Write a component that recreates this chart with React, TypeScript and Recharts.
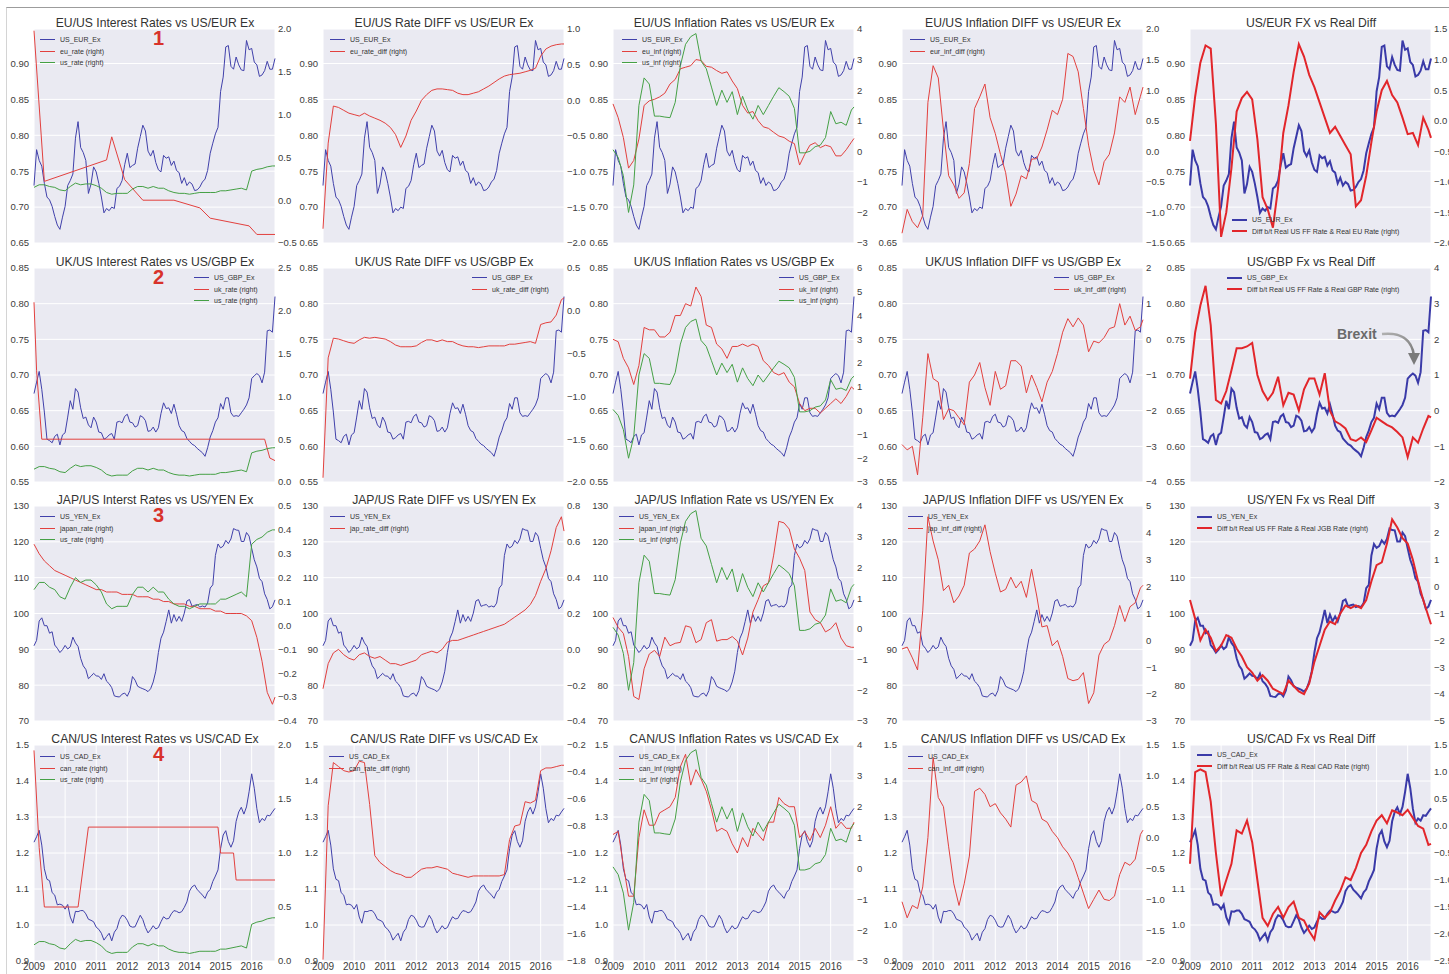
import React from 'react';
import { LineChart, Line, XAxis, YAxis, CartesianGrid } from 'recharts';

const FONT = '"Liberation Sans", Arial, Helvetica, sans-serif';

// months counted from Jan 2009 (0) to Oct 2016 (93)
const LAST_MONTH = 93;
const YEARS = [2009, 2010, 2011, 2012, 2013, 2014, 2015, 2016];
const YEAR_TICKS = YEARS.map((y) => (y - 2009) * 12);
// most series are read every second month, plus the last month
const BI_MONTHS = Array.from({ length: 47 }, (_, i) => i * 2).concat([93]);

const BLUE = '#4040aa';
const RED = '#e2403e';
const GREEN = '#45a045';
const BLUE_THICK = '#3a3aa8';
const RED_THICK = '#e2262b';
const BG = '#eaeaf2';

// ---- exchange rates, monthly ----
const US_EUR_EX = [
  0.730, 0.780, 0.765, 0.757, 0.733, 0.714, 0.710, 0.701, 0.687, 0.675, 0.669, 0.686,
  0.701, 0.730, 0.737, 0.746, 0.796, 0.819, 0.783, 0.776, 0.765, 0.719, 0.732, 0.756,
  0.749, 0.733, 0.714, 0.692, 0.698, 0.695, 0.700, 0.698, 0.726, 0.729, 0.737, 0.759,
  0.775, 0.755, 0.758, 0.760, 0.782, 0.798, 0.814, 0.806, 0.778, 0.771, 0.779, 0.762,
  0.752, 0.749, 0.772, 0.768, 0.770, 0.758, 0.764, 0.751, 0.748, 0.733, 0.741, 0.730,
  0.735, 0.732, 0.723, 0.724, 0.728, 0.735, 0.739, 0.751, 0.775, 0.789, 0.802, 0.811,
  0.861, 0.881, 0.923, 0.925, 0.896, 0.892, 0.909, 0.898, 0.891, 0.890, 0.932, 0.919,
  0.921, 0.902, 0.898, 0.882, 0.884, 0.890, 0.903, 0.892, 0.892, 0.907,
];
const US_GBP_EX = [
  0.674, 0.690, 0.705, 0.680, 0.648, 0.610, 0.608, 0.605, 0.614, 0.617, 0.602, 0.616,
  0.619, 0.641, 0.664, 0.652, 0.681, 0.676, 0.654, 0.639, 0.641, 0.630, 0.626, 0.641,
  0.634, 0.620, 0.619, 0.610, 0.612, 0.616, 0.618, 0.610, 0.634, 0.635, 0.633, 0.642,
  0.645, 0.634, 0.633, 0.627, 0.629, 0.643, 0.641, 0.636, 0.621, 0.622, 0.627, 0.620,
  0.626, 0.646, 0.661, 0.653, 0.654, 0.646, 0.659, 0.645, 0.629, 0.622, 0.620, 0.611,
  0.607, 0.603, 0.601, 0.597, 0.594, 0.591, 0.586, 0.598, 0.613, 0.622, 0.634, 0.640,
  0.660, 0.652, 0.668, 0.668, 0.647, 0.642, 0.643, 0.642, 0.647, 0.652, 0.658, 0.668,
  0.695, 0.699, 0.702, 0.699, 0.689, 0.704, 0.762, 0.763, 0.760, 0.810,
];
const US_YEN_EX = [
  91.0, 92.5, 97.9, 98.8, 96.6, 96.6, 94.5, 94.9, 91.2, 90.3, 89.1, 89.9,
  91.1, 90.1, 90.7, 93.4, 91.8, 90.8, 87.5, 85.4, 84.4, 81.8, 82.5, 83.3,
  82.6, 82.5, 81.6, 83.2, 81.1, 80.4, 79.3, 77.0, 76.8, 76.7, 77.5, 77.8,
  76.9, 78.5, 82.4, 81.4, 79.7, 79.3, 79.0, 78.7, 78.2, 79.0, 80.9, 83.9,
  89.1, 93.1, 94.8, 97.8, 101.0, 97.3, 99.7, 97.8, 99.2, 97.8, 100.1, 103.5,
  103.9, 102.0, 102.3, 102.5, 101.8, 102.1, 101.8, 102.9, 107.1, 108.0, 116.2, 119.4,
  118.3, 118.8, 120.4, 119.5, 120.8, 123.7, 123.3, 123.2, 120.1, 120.1, 122.6, 121.6,
  118.2, 115.0, 113.0, 109.8, 108.9, 105.5, 103.9, 101.3, 101.9, 103.8,
];
const US_CAD_EX = [
  1.230, 1.245, 1.263, 1.222, 1.156, 1.127, 1.123, 1.090, 1.083, 1.056, 1.058, 1.055,
  1.044, 1.057, 1.022, 1.005, 1.038, 1.037, 1.040, 1.040, 1.031, 1.016, 1.013, 1.009,
  0.994, 0.988, 0.977, 0.958, 0.968, 0.977, 0.956, 0.980, 0.990, 1.015, 1.027, 1.024,
  1.013, 0.997, 0.994, 0.995, 1.011, 1.027, 1.015, 0.993, 0.978, 0.987, 0.998, 0.989,
  0.993, 1.009, 1.023, 1.017, 1.018, 1.031, 1.040, 1.038, 1.034, 1.037, 1.049, 1.064,
  1.094, 1.106, 1.111, 1.098, 1.091, 1.083, 1.074, 1.091, 1.099, 1.121, 1.136, 1.153,
  1.212, 1.250, 1.262, 1.232, 1.216, 1.234, 1.288, 1.314, 1.327, 1.308, 1.328, 1.370,
  1.420, 1.380, 1.323, 1.284, 1.296, 1.290, 1.305, 1.303, 1.314, 1.324,
];

// ---- policy rates: [month, value] break points ----
const EU_RATE: [number, number][] = [
  [0, 1.98], [4, 0.22], [28, 0.47], [30, 0.74], [35, 0.24], [42, 0.0], [54, 0.0],
  [64, -0.09], [68, -0.21], [83, -0.3], [86, -0.4], [93, -0.4],
];
const UK_RATE: [number, number][] = [
  [0, 2.1], [1, 1.3], [3, 0.5], [89, 0.5], [91, 0.28], [93, 0.25],
];
const CAN_RATE: [number, number][] = [
  [0, 1.95], [2, 1.05], [4, 0.5], [17, 0.5], [21, 1.24], [71, 1.24], [72, 1.0],
  [77, 1.0], [78, 0.75], [93, 0.75],
];

// ---- every second month (BI_MONTHS) ----
const US_RATE = [
  0.15, 0.18, 0.18, 0.16, 0.15, 0.12, 0.11, 0.16,
  0.20, 0.18, 0.19, 0.19, 0.17, 0.14, 0.09, 0.07,
  0.08, 0.08, 0.08, 0.13, 0.16, 0.16, 0.14, 0.16,
  0.14, 0.14, 0.11, 0.09, 0.08, 0.08, 0.07, 0.08,
  0.09, 0.09, 0.09, 0.09, 0.11, 0.11, 0.12, 0.13,
  0.14, 0.12, 0.34, 0.36, 0.37, 0.39, 0.40, 0.40,
];
const JAPAN_RATE = [
  0.34, 0.30, 0.27, 0.25, 0.23, 0.22, 0.21, 0.20,
  0.19, 0.18, 0.17, 0.16, 0.15, 0.15, 0.14, 0.14,
  0.14, 0.13, 0.13, 0.13, 0.12, 0.12, 0.12, 0.11,
  0.11, 0.10, 0.10, 0.09, 0.09, 0.09, 0.08, 0.08,
  0.07, 0.07, 0.07, 0.06, 0.06, 0.05, 0.05, 0.05,
  0.05, 0.04, 0.02, -0.05, -0.15, -0.28, -0.33, -0.30,
];
const EU_RATE_DIFF = [
  -1.80, -0.60, -0.08, -0.10, -0.14, -0.18, -0.20, -0.22,
  -0.18, -0.22, -0.25, -0.28, -0.32, -0.38, -0.48, -0.66,
  -0.50, -0.28, -0.15, 0.00, 0.08, 0.14, 0.16, 0.16,
  0.15, 0.14, 0.10, 0.08, 0.08, 0.10, 0.12, 0.16,
  0.20, 0.25, 0.30, 0.34, 0.36, 0.37, 0.38, 0.40,
  0.42, 0.45, 0.62, 0.72, 0.76, 0.78, 0.79, 0.79,
];
const UK_RATE_DIFF = [
  -1.95, -0.55, -0.32, -0.33, -0.35, -0.37, -0.38, -0.34,
  -0.31, -0.32, -0.31, -0.32, -0.33, -0.36, -0.40, -0.42,
  -0.42, -0.42, -0.41, -0.37, -0.34, -0.34, -0.36, -0.34,
  -0.36, -0.36, -0.39, -0.41, -0.42, -0.42, -0.43, -0.42,
  -0.41, -0.41, -0.41, -0.41, -0.39, -0.39, -0.38, -0.37,
  -0.36, -0.38, -0.16, -0.14, -0.13, -0.05, 0.13, 0.15,
];
const JAP_RATE_DIFF = [
  -0.22, -0.08, -0.02, 0.00, -0.03, -0.05, -0.06, -0.03,
  -0.02, -0.04, -0.05, -0.04, -0.06, -0.08, -0.08, -0.09,
  -0.08, -0.07, -0.06, -0.03, -0.02, -0.01, -0.02, 0.00,
  0.04, 0.05, 0.05, 0.06, 0.07, 0.08, 0.09, 0.10,
  0.11, 0.12, 0.13, 0.14, 0.16, 0.18, 0.20, 0.22,
  0.25, 0.30, 0.38, 0.45, 0.55, 0.68, 0.74, 0.66,
];
const CAN_RATE_DIFF = [
  -1.79, -0.65, -0.33, -0.36, -0.39, -0.40, -0.39, -0.32,
  -0.33, -0.64, -1.02, -1.07, -1.10, -1.13, -1.15, -1.16,
  -1.18, -1.18, -1.15, -1.12, -1.11, -1.11, -1.10, -1.11,
  -1.12, -1.15, -1.16, -1.17, -1.18, -1.17, -1.17, -1.17,
  -1.17, -1.17, -1.17, -1.16, -0.90, -0.80, -0.79, -0.62,
  -0.63, -0.61, -0.39, -0.37, -0.37, -0.36, -0.35, -0.35,
];

// ---- inflation ----
const US_INF = [
  0.05, -0.20, -0.80, -2.00, -1.10, 1.50, 2.40, 2.20,
  1.15, 1.15, 1.12, 1.10, 1.60, 2.80, 3.50, 3.75,
  3.85, 2.95, 2.70, 2.10, 1.50, 2.00, 1.60, 1.95,
  1.20, 1.80, 1.35, 1.05, 1.50, 1.20, 1.50, 1.80,
  2.08, 1.95, 1.80, 1.40, -0.05, -0.05, 0.00, 0.15,
  0.20, 0.45, 1.30, 0.90, 0.95, 0.85, 1.35, 1.45,
];
const EU_INF = [
  1.55, 1.10, 0.45, -0.55, -0.30, 0.40, 1.50, 1.65,
  1.70, 1.78, 1.90, 2.20, 2.35, 2.70, 2.75, 2.80,
  3.00, 2.97, 2.78, 2.75, 2.64, 2.55, 2.60, 2.30,
  2.05, 1.50, 1.25, 1.30, 1.00, 0.80, 0.75, 0.62,
  0.50, 0.45, 0.33, 0.25, -0.45, -0.10, 0.20, 0.28,
  0.12, 0.20, 0.15, -0.15, -0.15, 0.05, 0.30, 0.42,
];
const UK_INF = [
  3.0, 2.9, 2.2, 1.8, 1.1, 1.9, 3.5, 3.4,
  3.4, 3.1, 3.1, 3.3, 4.0, 4.0, 4.5, 4.4,
  5.2, 4.8, 3.6, 3.5, 2.8, 2.6, 2.2, 2.7,
  2.7, 2.8, 2.7, 2.8, 2.7, 2.1, 1.9, 1.6,
  1.5, 1.6, 1.2, 1.0, 0.3, 0.0, 0.1, 0.1,
  -0.1, 0.1, 0.3, 0.5, 0.3, 0.6, 1.0, 0.9,
];
const JAPAN_INF = [
  0.37, 0.05, -0.15, -0.90, -2.20, -2.30, -1.30, -0.82,
  -0.70, -0.90, -0.27, -0.55, -0.47, -0.44, 0.10, 0.05,
  -0.45, -0.35, 0.20, 0.30, -0.40, -0.35, -0.35, -0.25,
  -0.40, -0.85, -0.30, 0.55, 0.95, 1.40, 1.50, 2.40,
  3.50, 3.45, 3.25, 2.60, 2.30, 1.90, 0.55, 0.30,
  0.20, -0.10, 0.00, 0.20, -0.30, -0.55, -0.60, -0.60,
];
const CAN_INF = [
  1.1, 1.2, 0.1, -0.9, -0.9, 1.0, 1.9, 1.4,
  1.4, 1.8, 1.9, 2.0, 2.3, 3.3, 3.7, 2.7,
  3.2, 2.9, 2.5, 1.9, 1.2, 1.3, 1.2, 0.8,
  0.5, 1.0, 0.7, 1.3, 1.1, 0.9, 1.5, 1.5,
  2.3, 2.1, 2.0, 2.0, 1.0, 1.2, 0.9, 1.3,
  1.0, 1.4, 2.0, 1.3, 1.5, 1.3, 1.3, 1.5,
];
const EUR_INF_DIFF = [
  -1.34, -0.95, -1.15, -1.25, -1.05, 0.80, 1.40, 1.20,
  0.35, -0.40, -0.55, -0.77, -0.68, -0.20, 0.70, 0.89,
  1.10, 0.55, 0.29, -0.05, -0.35, -0.90, -0.70, -0.40,
  -0.45, -0.13, -0.12, 0.07, 0.35, 0.67, 0.60, 0.85,
  1.60, 1.55, 1.30, 0.70, 0.10, -0.31, -0.55, -0.17,
  -0.05, 0.30, 0.89, 0.80, 1.05, 0.60, 0.90, 1.05,
];
const UK_INF_DIFF = [
  -2.95, -3.10, -3.00, -3.80, -2.20, -0.40, -1.10, -1.20,
  -2.25, -1.95, -2.00, -2.20, -2.40, -1.20, -1.00, -0.65,
  -1.35, -1.85, -0.90, -1.40, -1.30, -0.60, -0.60, -0.75,
  -1.50, -1.00, -1.35, -1.75, -1.20, -0.90, -0.40, 0.20,
  0.58, 0.35, 0.60, 0.40, -0.35, -0.05, -0.10, 0.05,
  0.30, 0.35, 1.00, 0.40, 0.65, 0.25, 0.35, 0.55,
];
const JAP_INF_DIFF = [
  -0.32, -0.25, -0.65, -1.10, 1.10, 4.60, 3.70, 3.00,
  1.85, 2.05, 1.40, 1.65, 2.05, 3.25, 3.40, 3.70,
  4.30, 3.30, 2.50, 1.80, 1.90, 2.35, 1.95, 2.20,
  1.60, 2.65, 1.65, 0.50, 0.55, -0.20, 0.00, -0.60,
  -1.42, -1.50, -1.45, -1.20, -2.35, -1.95, -0.55, -0.15,
  0.00, 0.55, 1.30, 0.70, 1.25, 1.40, 1.95, 2.05,
];
const CAN_INF_DIFF = [
  -1.04, -1.30, -1.10, -1.15, -0.80, 0.00, 1.30, 0.65,
  0.50, -0.15, -0.75, -1.10, -0.75, -0.30, 0.75, 0.80,
  0.70, 0.50, 0.55, 0.40, 0.30, 0.17, 0.85, 0.90,
  1.00, 0.60, 0.55, 0.30, 0.25, 0.10, 0.00, -0.15,
  -0.25, -0.40, -0.65, -0.90, -1.15, -1.00, -0.85, -1.00,
  -1.02, -0.95, -0.60, -0.40, -0.45, -0.35, 0.05, 0.12,
];

// ---- real rate differentials ----
const REAL_DIFF_EUR = [
  -0.33, 0.40, 0.95, 1.23, 1.18, -0.05, -1.90, -1.50,
  -0.77, 0.15, 0.37, 0.47, 0.35, -0.30, -1.25, -1.45,
  -1.75, -1.10, -0.20, 0.25, 0.80, 1.25, 1.05, 0.75,
  0.55, 0.30, 0.05, -0.20, -0.10, -0.25, -0.40, -0.55,
  -1.40, -1.30, -0.90, -0.35, 0.15, 0.50, 0.65, 0.42,
  0.30, 0.05, -0.22, -0.20, -0.40, 0.05, -0.15, -0.28,
];
const REAL_DIFF_GBP = [
  0.90, 2.20, 2.95, 3.50, 2.40, 0.30, 0.20, 0.55,
  1.13, 1.75, 1.75, 1.80, 1.90, 1.00, 0.55, 0.30,
  0.50, 0.95, 0.15, 0.50, 0.45, 0.00, 0.60, 0.90,
  0.90, 0.45, 1.05, 0.00, -0.30, -0.38, -0.50, -0.80,
  -0.85, -0.75, -0.88, -0.55, -0.20, -0.30, -0.40, -0.47,
  -0.60, -0.75, -1.30, -0.75, -0.90, -0.50, -0.15, -0.19,
];
const REAL_DIFF_JGB = [
  -0.50, -1.20, -2.00, -1.60, -1.90, -2.40, -2.20, -1.80,
  -1.90, -2.30, -2.60, -3.00, -3.20, -3.50, -3.30, -3.50,
  -3.80, -3.90, -4.00, -3.50, -3.70, -3.90, -4.00, -3.60,
  -2.80, -2.20, -1.60, -1.30, -1.40, -1.00, -0.70, -0.80,
  -0.70, -0.80, -0.50, 0.20, 0.80, 0.90, 1.60, 2.50,
  2.20, 1.80, 1.60, 1.00, 0.20, -0.50, -1.10, -1.40,
];
const REAL_DIFF_CAD = [
  -0.70, 1.00, 1.05, 1.00, 0.45, -0.50, -1.30, -1.00,
  -0.70, -0.08, -0.14, 0.10, -0.30, -1.00, -1.70, -1.85,
  -1.63, -1.50, -1.70, -1.50, -1.40, -1.70, -1.75, -1.95,
  -2.10, -1.60, -1.70, -1.60, -1.38, -1.20, -0.95, -1.00,
  -0.78, -0.50, -0.35, -0.10, 0.10, 0.20, 0.05, 0.29,
  0.25, 0.20, 0.30, 0.15, 0.00, -0.05, -0.35, -0.33,
];

// ---- axes ----
const LEFT_TICKS_EUR = [0.65, 0.7, 0.75, 0.8, 0.85, 0.9];
const LEFT_TICKS_GBP = [0.55, 0.6, 0.65, 0.7, 0.75, 0.8, 0.85];
const LEFT_TICKS_YEN = [70, 80, 90, 100, 110, 120, 130];
const LEFT_TICKS_CAD = [0.9, 1.0, 1.1, 1.2, 1.3, 1.4, 1.5];

const COL_LEFT = [34, 323, 613, 902, 1190];
const PLOT_W = 241;

type Src = { bi: number[] } | { pts: [number, number][] };
type Extra = { name: string; color: string; src: Src };
type RowDef = {
  top: number; h: number; fx: number[]; fxName: string;
  leftDomain: [number, number]; leftTicks: number[]; leftDec: number; mark: string;
};
type PanelDef = {
  row: number; col: number; title: string; extras: Extra[];
  rightTicks: number[]; rightDec: number; legend: [number, number];
};

const ROWS: RowDef[] = [
  { top: 29, h: 214, fx: US_EUR_EX, fxName: 'US_EUR_Ex', leftDomain: [0.65, 0.948], leftTicks: LEFT_TICKS_EUR, leftDec: 2, mark: '1' },
  { top: 268, h: 214, fx: US_GBP_EX, fxName: 'US_GBP_Ex', leftDomain: [0.55, 0.85], leftTicks: LEFT_TICKS_GBP, leftDec: 2, mark: '2' },
  { top: 506, h: 215, fx: US_YEN_EX, fxName: 'US_YEN_Ex', leftDomain: [70, 130], leftTicks: LEFT_TICKS_YEN, leftDec: 0, mark: '3' },
  { top: 745, h: 216, fx: US_CAD_EX, fxName: 'US_CAD_Ex', leftDomain: [0.9, 1.5], leftTicks: LEFT_TICKS_CAD, leftDec: 1, mark: '4' },
];

const PANELS: PanelDef[] = [
  { row: 0, col: 0, title: 'EU/US Interest Rates vs US/EUR Ex', rightTicks: [-0.5, 0, 0.5, 1, 1.5, 2], rightDec: 1, legend: [40, 40],
    extras: [{ name: 'eu_rate (right)', color: RED, src: { pts: EU_RATE } }, { name: 'us_rate (right)', color: GREEN, src: { bi: US_RATE } }] },
  { row: 0, col: 1, title: 'EU/US Rate DIFF vs US/EUR Ex', rightTicks: [-2, -1.5, -1, -0.5, 0, 0.5, 1], rightDec: 1, legend: [330, 40],
    extras: [{ name: 'eu_rate_diff (right)', color: RED, src: { bi: EU_RATE_DIFF } }] },
  { row: 0, col: 2, title: 'EU/US Inflation Rates vs US/EUR Ex', rightTicks: [-3, -2, -1, 0, 1, 2, 3, 4], rightDec: 0, legend: [622, 40],
    extras: [{ name: 'eu_inf (right)', color: RED, src: { bi: EU_INF } }, { name: 'us_inf (right)', color: GREEN, src: { bi: US_INF } }] },
  { row: 0, col: 3, title: 'EU/US Inflation DIFF vs US/EUR Ex', rightTicks: [-1.5, -1, -0.5, 0, 0.5, 1, 1.5, 2], rightDec: 1, legend: [910, 40],
    extras: [{ name: 'eur_inf_diff (right)', color: RED, src: { bi: EUR_INF_DIFF } }] },
  { row: 0, col: 4, title: 'US/EUR FX vs Real Diff', rightTicks: [-2, -1.5, -1, -0.5, 0, 0.5, 1, 1.5], rightDec: 1, legend: [1232, 220],
    extras: [{ name: 'Diff b/t Real US FF Rate & Real EU Rate (right)', color: RED_THICK, src: { bi: REAL_DIFF_EUR } }] },

  { row: 1, col: 0, title: 'UK/US Interest Rates vs US/GBP Ex', rightTicks: [0, 0.5, 1, 1.5, 2, 2.5], rightDec: 1, legend: [194, 278],
    extras: [{ name: 'uk_rate (right)', color: RED, src: { pts: UK_RATE } }, { name: 'us_rate (right)', color: GREEN, src: { bi: US_RATE } }] },
  { row: 1, col: 1, title: 'UK/US Rate DIFF vs US/GBP Ex', rightTicks: [-2, -1.5, -1, -0.5, 0, 0.5], rightDec: 1, legend: [472, 278],
    extras: [{ name: 'uk_rate_diff (right)', color: RED, src: { bi: UK_RATE_DIFF } }] },
  { row: 1, col: 2, title: 'UK/US Inflation Rates vs US/GBP Ex', rightTicks: [-3, -2, -1, 0, 1, 2, 3, 4, 5, 6], rightDec: 0, legend: [779, 278],
    extras: [{ name: 'uk_inf (right)', color: RED, src: { bi: UK_INF } }, { name: 'us_inf (right)', color: GREEN, src: { bi: US_INF } }] },
  { row: 1, col: 3, title: 'UK/US Inflation DIFF vs US/GBP Ex', rightTicks: [-4, -3, -2, -1, 0, 1, 2], rightDec: 0, legend: [1054, 278],
    extras: [{ name: 'uk_inf_diff (right)', color: RED, src: { bi: UK_INF_DIFF } }] },
  { row: 1, col: 4, title: 'US/GBP Fx vs Real Diff', rightTicks: [-2, -1, 0, 1, 2, 3, 4], rightDec: 0, legend: [1227, 278],
    extras: [{ name: 'Diff b/t Real US FF Rate & Real GBP Rate (right)', color: RED_THICK, src: { bi: REAL_DIFF_GBP } }] },

  { row: 2, col: 0, title: 'JAP/US Interst Rates vs US/YEN Ex', rightTicks: [-0.4, -0.3, -0.2, -0.1, 0, 0.1, 0.2, 0.3, 0.4, 0.5], rightDec: 1, legend: [40, 517],
    extras: [{ name: 'japan_rate (right)', color: RED, src: { bi: JAPAN_RATE } }, { name: 'us_rate (right)', color: GREEN, src: { bi: US_RATE } }] },
  { row: 2, col: 1, title: 'JAP/US Rate DIFF vs US/YEN Ex', rightTicks: [-0.4, -0.2, 0, 0.2, 0.4, 0.6, 0.8], rightDec: 1, legend: [330, 517],
    extras: [{ name: 'jap_rate_diff (right)', color: RED, src: { bi: JAP_RATE_DIFF } }] },
  { row: 2, col: 2, title: 'JAP/US Inflation Rate vs US/YEN Ex', rightTicks: [-3, -2, -1, 0, 1, 2, 3, 4], rightDec: 0, legend: [619, 517],
    extras: [{ name: 'japan_inf (right)', color: RED, src: { bi: JAPAN_INF } }, { name: 'us_inf (right)', color: GREEN, src: { bi: US_INF } }] },
  { row: 2, col: 3, title: 'JAP/US Inflation DIFF vs US/YEN Ex', rightTicks: [-3, -2, -1, 0, 1, 2, 3, 4, 5], rightDec: 0, legend: [908, 517],
    extras: [{ name: 'jap_inf_diff (right)', color: RED, src: { bi: JAP_INF_DIFF } }] },
  { row: 2, col: 4, title: 'US/YEN Fx vs Real Diff', rightTicks: [-5, -4, -3, -2, -1, 0, 1, 2, 3], rightDec: 0, legend: [1197, 517],
    extras: [{ name: 'Diff b/t Real US FF Rate & Real JGB Rate (right)', color: RED_THICK, src: { bi: REAL_DIFF_JGB } }] },

  { row: 3, col: 0, title: 'CAN/US Interest Rates vs US/CAD Ex', rightTicks: [0, 0.5, 1, 1.5, 2], rightDec: 1, legend: [40, 757],
    extras: [{ name: 'can_rate (right)', color: RED, src: { pts: CAN_RATE } }, { name: 'us_rate (right)', color: GREEN, src: { bi: US_RATE } }] },
  { row: 3, col: 1, title: 'CAN/US Rate DIFF vs US/CAD Ex', rightTicks: [-1.8, -1.6, -1.4, -1.2, -1, -0.8, -0.6, -0.4, -0.2], rightDec: 1, legend: [329, 757],
    extras: [{ name: 'can_rate_diff (right)', color: RED, src: { bi: CAN_RATE_DIFF } }] },
  { row: 3, col: 2, title: 'CAN/US Inflation Rates vs US/CAD Ex', rightTicks: [-3, -2, -1, 0, 1, 2, 3, 4], rightDec: 0, legend: [619, 757],
    extras: [{ name: 'can_inf (right)', color: RED, src: { bi: CAN_INF } }, { name: 'us_inf (right)', color: GREEN, src: { bi: US_INF } }] },
  { row: 3, col: 3, title: 'CAN/US Inflation DIFF vs US/CAD Ex', rightTicks: [-2, -1.5, -1, -0.5, 0, 0.5, 1, 1.5], rightDec: 1, legend: [908, 757],
    extras: [{ name: 'can_inf_diff (right)', color: RED, src: { bi: CAN_INF_DIFF } }] },
  { row: 3, col: 4, title: 'US/CAD Fx vs Real Diff', rightTicks: [-2.5, -2, -1.5, -1, -0.5, 0, 0.5, 1, 1.5], rightDec: 1, legend: [1197, 755],
    extras: [{ name: 'Diff b/t Real US FF Rate & Real CAD Rate (right)', color: RED_THICK, src: { bi: REAL_DIFF_CAD } }] },
];

function toMap(src: Src): Map<number, number> {
  if ('bi' in src) return new Map(BI_MONTHS.map((m, i) => [m, src.bi[i]] as [number, number]));
  return new Map(src.pts);
}

function fmt(v: number, dec: number) {
  const s = Math.abs(v).toFixed(dec);
  return v < -1e-9 ? '\u2212' + s : s;
}

const AXW = 34;
const MT = 8;

function Panel({ p }: { p: PanelDef }) {
  const r = ROWS[p.row];
  const bottomRow = p.row === 3;
  const thick = p.col === 4;
  const xH = bottomRow ? 16 : 6;
  const width = AXW * 2 + PLOT_W;
  const height = MT + r.h + xH;
  const maps = p.extras.map((e) => toMap(e.src));
  const rows = r.fx.map((v, m) => {
    const row: Record<string, number> = { m, fx: v };
    maps.forEach((mp, i) => {
      const val = mp.get(m);
      if (val !== undefined) row['s' + i] = val;
    });
    return row;
  });
  const rt = p.rightTicks;
  const tickStyle = { fontSize: 9.5, fill: '#3c3c3c', fontFamily: FONT };
  return (
    <div style={{ position: 'absolute', left: COL_LEFT[p.col] - AXW, top: r.top - MT }}>
      <LineChart width={width} height={height} data={rows} margin={{ top: MT, right: 0, bottom: 0, left: 0 }}>
        <CartesianGrid fill={BG} fillOpacity={1} stroke="#ffffff" strokeWidth={1} />
        <XAxis
          dataKey="m"
          type="number"
          domain={[0, LAST_MONTH]}
          ticks={YEAR_TICKS}
          interval={0}
          height={xH}
          axisLine={false}
          tickLine={bottomRow ? false : { stroke: '#c4c4c4' }}
          tickSize={bottomRow ? 2 : 4}
          tickMargin={0}
          tick={bottomRow ? { ...tickStyle, fontSize: 10 } : false}
          tickFormatter={(m: number) => String(2009 + Math.round(m / 12))}
        />
        <XAxis
          xAxisId="top"
          orientation="top"
          dataKey="m"
          type="number"
          domain={[0, LAST_MONTH]}
          ticks={YEAR_TICKS}
          interval={0}
          height={0}
          axisLine={false}
          tickLine={{ stroke: '#c4c4c4' }}
          tickSize={4}
          tick={false}
        />
        <YAxis
          type="number"
          domain={r.leftDomain}
          ticks={r.leftTicks}
          interval={0}
          allowDataOverflow
          width={AXW}
          axisLine={false}
          tickLine={false}
          tickSize={3}
          tickMargin={2}
          tick={tickStyle}
          tickFormatter={(v: number) => fmt(v, r.leftDec)}
        />
        <YAxis
          yAxisId="right"
          orientation="right"
          type="number"
          domain={[rt[0], rt[rt.length - 1]]}
          ticks={rt}
          interval={0}
          allowDataOverflow
          width={AXW}
          axisLine={false}
          tickLine={false}
          tickSize={2}
          tickMargin={1}
          tick={tickStyle}
          tickFormatter={(v: number) => fmt(v, p.rightDec)}
        />
        <Line
          dataKey="fx"
          name={r.fxName}
          type="linear"
          stroke={thick ? BLUE_THICK : BLUE}
          strokeWidth={thick ? 2 : 1}
          dot={false}
          activeDot={false}
          connectNulls
          isAnimationActive={false}
        />
        {p.extras.map((e, i) => (
          <Line
            key={e.name}
            yAxisId="right"
            dataKey={'s' + i}
            name={e.name}
            type="linear"
            stroke={e.color}
            strokeWidth={thick ? 2 : 1}
            dot={false}
            activeDot={false}
            connectNulls
            isAnimationActive={false}
          />
        ))}
      </LineChart>
    </div>
  );
}

function Title({ p }: { p: PanelDef }) {
  const r = ROWS[p.row];
  const cx = COL_LEFT[p.col] + PLOT_W / 2;
  return (
    <div
      style={{
        position: 'absolute', left: cx - 150, top: r.top - 13, width: 300, textAlign: 'center',
        fontSize: 13.5, lineHeight: '14px', color: '#333', whiteSpace: 'nowrap',
        transform: 'scaleX(0.9)', transformOrigin: 'center',
      }}
    >
      {p.title}
    </div>
  );
}

function LegendBox({ p }: { p: PanelDef }) {
  const r = ROWS[p.row];
  const thick = p.col === 4;
  const items = [{ name: r.fxName, color: thick ? BLUE_THICK : BLUE }].concat(
    p.extras.map((e) => ({ name: e.name, color: e.color }))
  );
  return (
    <div style={{ position: 'absolute', left: p.legend[0], top: p.legend[1] - 6 }}>
      {items.map((it) => (
        <div key={it.name} style={{ display: 'flex', alignItems: 'center', height: 11.5 }}>
          <div style={{ width: 15, height: thick ? 2 : 1, background: it.color, marginRight: 5 }} />
          <div
            style={{
              fontSize: 7.8, color: '#333', whiteSpace: 'nowrap', lineHeight: '11.5px',
              transform: 'scaleX(0.9)', transformOrigin: 'left center',
            }}
          >
            {it.name}
          </div>
        </div>
      ))}
    </div>
  );
}

export default function App() {
  return (
    <div
      style={{
        position: 'absolute', left: 0, top: 0, width: 1449, height: 974, overflow: 'hidden',
        background: '#ffffff', fontFamily: FONT,
      }}
    >
      <div style={{ position: 'absolute', left: 6, top: 7, width: 1443, height: 967, borderTop: '1px solid #9c9c9c', borderLeft: '1px solid #d4d4d4' }} />
      {PANELS.map((p) => (
        <Panel key={p.title} p={p} />
      ))}
      {PANELS.map((p) => (
        <Title key={'t' + p.title} p={p} />
      ))}
      {PANELS.map((p) => (
        <LegendBox key={'l' + p.title} p={p} />
      ))}
      {ROWS.map((r) => (
        <div
          key={r.mark}
          style={{ position: 'absolute', left: 153, top: r.top - 1, fontSize: 20, lineHeight: '20px', fontWeight: 700, color: '#d8322b' }}
        >
          {r.mark}
        </div>
      ))}
      <div style={{ position: 'absolute', left: 1337, top: 327, fontSize: 14, lineHeight: '14px', fontWeight: 700, color: '#6a6a6a' }}>
        Brexit
      </div>
      <svg style={{ position: 'absolute', left: 1378, top: 325, overflow: 'visible' }} width={50} height={50}>
        <defs>
          <linearGradient id="brexitArrow" x1="0" y1="0" x2="1" y2="1">
            <stop offset="0%" stopColor="#b0b0b0" />
            <stop offset="100%" stopColor="#7a7a7a" />
          </linearGradient>
        </defs>
        <path d="M4 9 C 22 7, 34 14, 36 31" fill="none" stroke="url(#brexitArrow)" strokeWidth={2.5} />
        <path d="M30 28 L36 40 L42 28 Z" fill="#7a7a7a" />
      </svg>
    </div>
  );
}
